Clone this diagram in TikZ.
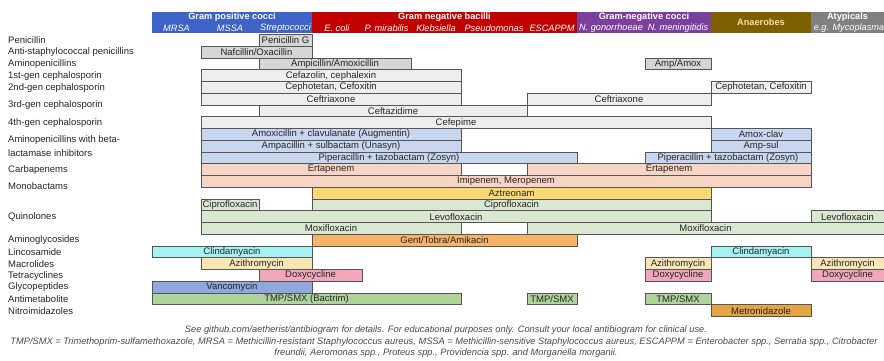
\documentclass[tikz,border=0pt]{standalone}
\usepackage{fontspec}
\setmainfont{Liberation Sans}
\definecolor{gposc}{HTML}{3D63C9}
\definecolor{gnegb}{HTML}{C20000}
\definecolor{gnegc}{HTML}{7B3F9E}
\definecolor{anaer}{HTML}{7F6000}
\definecolor{atyp}{HTML}{808080}
\definecolor{anaertext}{HTML}{F6E3A4}
\definecolor{pen}{HTML}{D6D6D6}
\definecolor{ceph}{HTML}{EEEEEE}
\definecolor{bli}{HTML}{C9D6EF}
\definecolor{carb}{HTML}{F7D4C4}
\definecolor{mono}{HTML}{FCD872}
\definecolor{quin}{HTML}{DAE8D2}
\definecolor{amgl}{HTML}{F6B46A}
\definecolor{linc}{HTML}{A4F2F2}
\definecolor{macr}{HTML}{FAE6B4}
\definecolor{tetr}{HTML}{F2A6BA}
\definecolor{glyc}{HTML}{90A8DE}
\definecolor{anti}{HTML}{AED49A}
\definecolor{nitr}{HTML}{E4A644}
\definecolor{edge}{HTML}{555555}
\definecolor{ink}{HTML}{262626}
\definecolor{note}{HTML}{4A4A4A}
% name, row, x1, x2, fill, text
\newcommand\drugbar[6]{\node[drugbox,fill=#5,minimum width={(#4)-(#3)}] (#1) at (#3,{34.5+11.75*#2}) {#6};}
% name, y, text
\newcommand\classlabel[3]{\node[classtext] (#1) at (8,#2) {#3};}
\begin{document}
\begin{tikzpicture}[x=1pt,y=-1pt,
  drugbox/.style={draw=edge,line width=0.75pt,inner sep=0pt,outer sep=0pt,anchor=north west,minimum height=11.75pt,font=\fontsize{9.5}{10}\selectfont,text=ink},
  classtext/.style={anchor=west,inner sep=0pt,font=\fontsize{9.5}{10}\selectfont,text=ink},
  hdrbox/.style={inner sep=0pt,outer sep=0pt,anchor=north west,minimum height=21.6pt},
  hdrtitle/.style={inner sep=0pt,font=\fontsize{9.2}{10}\selectfont\bfseries,text=white},
  hdrsub/.style={inner sep=0pt,font=\fontsize{9.2}{10}\selectfont\itshape,text=white},
  notetext/.style={inner sep=0pt,font=\fontsize{9.3}{10}\selectfont\itshape,text=note}]
\useasboundingbox[fill=white] (0,0) rectangle (884,360);
% header
\node[hdrbox,fill=gposc,minimum width=160pt] (hgp) at (152,11.7) {};
\node[hdrbox,fill=gnegb,minimum width=265pt] (hgnb) at (312,11.7) {};
\node[hdrbox,fill=gnegc,minimum width=134pt] (hgnc) at (577,11.7) {};
\node[hdrbox,fill=anaer,minimum width=100pt] (han) at (711,11.7) {};
\node[hdrbox,fill=atyp,minimum width=73pt] (hat) at (811,11.7) {};
\node[hdrtitle] (tgp) at (232,17.3) {Gram positive cocci};
\node[hdrtitle] (tgnb) at (444.5,17.3) {Gram negative bacilli};
\node[hdrtitle] (tgnc) at (644,17.3) {Gram-negative cocci};
\node[hdrtitle,text=anaertext] (tan) at (761,22.5) {Anaerobes};
\node[hdrtitle] (tat) at (847.5,17.3) {Atypicals};
\node[hdrsub] (s1) at (176.5,28.3) {MRSA};
\node[hdrsub] (s2) at (230,28.3) {MSSA};
\node[hdrsub] (s3) at (285.5,28.3) {Streptococci};
\node[hdrsub] (s4) at (337,28.3) {E. coli};
\node[hdrsub] (s5) at (386.5,28.3) {P. mirabilis};
\node[hdrsub] (s6) at (436,28.3) {Klebsiella};
\node[hdrsub] (s7) at (494,28.3) {Pseudomonas};
\node[hdrsub] (s8) at (552,28.3) {ESCAPPM};
\node[hdrsub] (s9) at (611,28.3) {N. gonorrhoeae};
\node[hdrsub] (s10) at (678,28.3) {N. meningitidis};
\node[hdrsub] (s11) at (849,28.3) {e.g. Mycoplasma};
% class labels
\classlabel{l0}{40.4}{Penicillin}
\classlabel{l1}{52.1}{Anti-staphylococcal penicillins}
\classlabel{l2}{63.9}{Aminopenicillins}
\classlabel{l3}{75.6}{1st-gen cephalosporin}
\classlabel{l4}{87.6}{2nd-gen cephalosporin}
\classlabel{l5}{105.5}{3rd-gen cephalosporin}
\classlabel{l6}{123.5}{4th-gen cephalosporin}
\classlabel{l7a}{139.8}{Aminopenicillins with beta-}
\classlabel{l7b}{152.8}{lactamase inhibitors}
\classlabel{l8}{169.6}{Carbapenems}
\classlabel{l9}{186}{Monobactams}
\classlabel{l10}{216.9}{Quinolones}
\classlabel{l11}{239.6}{Aminoglycosides}
\classlabel{l12}{252.1}{Lincosamide}
\classlabel{l13}{263.9}{Macrolides}
\classlabel{l14}{275.6}{Tetracyclines}
\classlabel{l15}{287.4}{Glycopeptides}
\classlabel{l16}{299.1}{Antimetabolite}
\classlabel{l17}{310.9}{Nitroimidazoles}
% bars
\drugbar{pg}{0}{259}{312}{pen}{Penicillin G}
\drugbar{naf}{1}{201}{312}{pen}{Nafcillin/Oxacillin}
\drugbar{amp}{2}{259}{411}{pen}{Ampicillin/Amoxicillin}
\drugbar{ampb}{2}{645}{711}{pen}{Amp/Amox}
\drugbar{cfz}{3}{201}{461}{ceph}{Cefazolin, cephalexin}
\drugbar{cft}{4}{201}{461}{ceph}{Cephotetan, Cefoxitin}
\drugbar{cftb}{4}{711}{811}{ceph}{Cephotetan, Cefoxitin}
\drugbar{cro}{5}{201}{461}{ceph}{Ceftriaxone}
\drugbar{crob}{5}{527}{711}{ceph}{Ceftriaxone}
\drugbar{caz}{6}{259}{527}{ceph}{Ceftazidime}
\drugbar{fep}{7}{201}{711}{ceph}{Cefepime}
\drugbar{amc}{8}{201}{461}{bli}{Amoxicillin + clavulanate (Augmentin)}
\drugbar{amcb}{8}{711}{811}{bli}{Amox-clav}
\drugbar{sam}{9}{201}{461}{bli}{Ampacillin + sulbactam (Unasyn)}
\drugbar{samb}{9}{711}{811}{bli}{Amp-sul}
\drugbar{tzp}{10}{201}{577}{bli}{Piperacillin + tazobactam (Zosyn)}
\drugbar{tzpb}{10}{645}{811}{bli}{Piperacillin + tazobactam (Zosyn)}
\drugbar{etp}{11}{201}{461}{carb}{Ertapenem}
\drugbar{etpb}{11}{527}{811}{carb}{Ertapenem}
\drugbar{imp}{12}{201}{811}{carb}{Imipenem, Meropenem}
\drugbar{atm}{13}{312}{711}{mono}{Aztreonam}
\drugbar{cip}{14}{201}{259}{quin}{Ciprofloxacin}
\drugbar{cipb}{14}{312}{711}{quin}{Ciprofloxacin}
\drugbar{lvx}{15}{201}{711}{quin}{Levofloxacin}
\drugbar{lvxb}{15}{811}{884}{quin}{Levofloxacin}
\drugbar{mxf}{16}{201}{461}{quin}{Moxifloxacin}
\drugbar{mxfb}{16}{527}{884}{quin}{Moxifloxacin}
\drugbar{gen}{17}{312}{577}{amgl}{Gent/Tobra/Amikacin}
\drugbar{cli}{18}{152}{312}{linc}{Clindamyacin}
\drugbar{clib}{18}{711}{811}{linc}{Clindamyacin}
\drugbar{azm}{19}{201}{312}{macr}{Azithromycin}
\drugbar{azmb}{19}{645}{711}{macr}{Azithromycin}
\drugbar{azmc}{19}{811}{884}{macr}{Azithromycin}
\drugbar{dox}{20}{259}{362}{tetr}{Doxycycline}
\drugbar{doxb}{20}{645}{711}{tetr}{Doxycycline}
\drugbar{doxc}{20}{811}{884}{tetr}{Doxycycline}
\drugbar{van}{21}{152}{312}{glyc}{Vancomycin}
\drugbar{sxt}{22}{152}{461}{anti}{TMP/SMX (Bactrim)}
\drugbar{sxtb}{22}{527}{577}{anti}{TMP/SMX}
\drugbar{sxtc}{22}{645}{711}{anti}{TMP/SMX}
\drugbar{mtz}{23}{711}{811}{nitr}{Metronidazole}
% notes
\node[notetext] (n1) at (446,330) {See github.com/aetherist/antibiogram for details. For educational purposes only. Consult your local antibiogram for clinical use.};
\node[notetext] (n2) at (444,341.7) {TMP/SMX = Trimethoprim-sulfamethoxazole, MRSA = Methicillin-resistant Staphylococcus aureus, MSSA = Methicillin-sensitive Staphylococcus aureus, ESCAPPM = Enterobacter spp., Serratia spp., Citrobacter};
\node[notetext] (n3) at (446,353.3) {freundii, Aeromonas spp., Proteus spp., Providencia spp. and Morganella morganii.};
\end{tikzpicture}
\end{document}
